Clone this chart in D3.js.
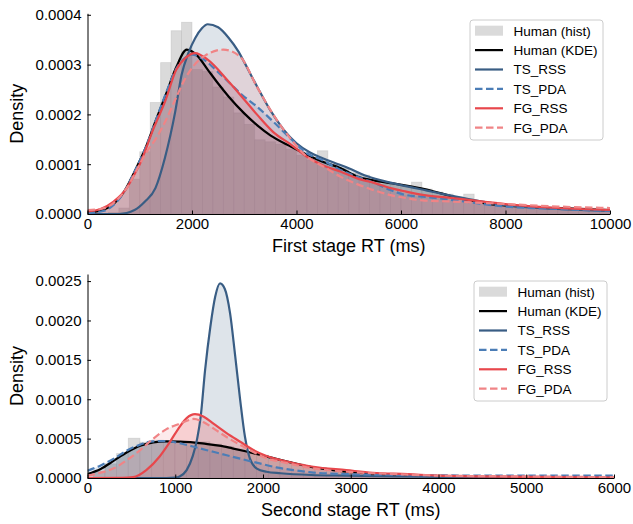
<!DOCTYPE html>
<html><head><meta charset="utf-8">
<script src="https://cdn.jsdelivr.net/npm/d3@7"></script>
<style>
body{margin:0;background:#fff}
svg{display:block}
text{font-family:"Liberation Sans",Arial,Helvetica,sans-serif;fill:#000}
</style>
</head><body>
<svg id="c" width="633" height="524"></svg>
<script>
// ---------------- DATA ----------------
const seriesNames = ["Human (hist)", "Human (KDE)", "TS_RSS", "TS_PDA", "FG_RSS", "FG_PDA"];

// Panel 1: first stage RT
const xTicks1 = [0, 2000, 4000, 6000, 8000, 10000];
const yTicks1 = [0, 0.0001, 0.0002, 0.0003, 0.0004];
const xLabel1 = "First stage RT (ms)";
const histStart1 = [0,200,400,600,800,1000,1200,1400,1600,1800,2000,2200,2400,2600,2800,3000,3200,3400,3600,3800,4000,4200,4400,4600,4800,5000,5200,5400,5600,5800,6000,6200,6400,6600,6800,7000,7200,7400,7600,7800,8000,8200,8400,8600,8800,9000,9200,9400,9600,9800];
const histWidth1 = 200;
const histDensity1 = [0,0,0.000003,0.000012,0.00007,0.000125,0.000224,0.000304,0.000368,0.000385,0.00029,0.000286,0.000255,0.000235,0.000203,0.00018,0.000149,0.000145,0.00014,0.00013,0.000118,0.000108,0.000127,0.0001,0.000092,0.000082,0.000078,0.000066,0.00006,0.000058,0.000056,0.000064,0.00005,0.000044,0.00004,0.000034,0.00004,0.000026,0.000022,0.000018,0.000016,0.000014,0.000013,0.000012,0.000012,0.000011,0.00001,0.00001,0.000009,0.000008];
const kde1 = [[0,0.000003],[300,0.000008],[500,0.00002],[700,0.000045],[900,0.000085],[1100,0.00013],[1300,0.000186],[1500,0.00024],[1700,0.000295],[1900,0.00033],[2100,0.000318],[2300,0.00029],[2500,0.000262],[2700,0.000236],[3000,0.000202],[3250,0.000178],[3500,0.000158],[3900,0.000135],[4200,0.000119],[4500,0.000105],[4850,0.000092],[5150,0.000076],[5500,0.000067],[5800,0.000062],[6100,0.000057],[6450,0.00005],[6750,0.000042],[7100,0.000032],[7400,0.000026],[7700,0.00002],[8000,0.000017],[8700,0.000013],[9300,0.000011],[10000,0.000008]];
const tsRss1 = [[0,0],[600,0],[900,0.000008],[1100,0.000025],[1300,0.000052],[1480,0.000112],[1680,0.000206],[1800,0.000279],[1930,0.000323],[2060,0.000353],[2190,0.000373],[2300,0.000381],[2500,0.000375],[2700,0.000354],[2890,0.000326],[3000,0.000305],[3250,0.000255],[3500,0.000208],[3750,0.00017],[4000,0.000142],[4250,0.000124],[4500,0.000112],[4800,0.0001],[5000,0.000092],[5300,0.000078],[5600,0.000068],[6000,0.000058],[6500,0.000047],[7000,0.000036],[7500,0.000026],[8000,0.000018],[8500,0.000013],[9000,0.00001],[10000,0.000006]];
const tsPda1 = [[0,0.000002],[300,0.000006],[500,0.000018],[700,0.000044],[900,0.000085],[1100,0.00013],[1300,0.000186],[1500,0.000242],[1700,0.000292],[1850,0.000312],[2000,0.00032],[2200,0.000312],[2500,0.000285],[2800,0.000255],[2950,0.00024],[3250,0.000215],[3550,0.000186],[3900,0.00015],[4200,0.000122],[4500,0.000108],[4850,0.000088],[5150,0.000075],[5500,0.000062],[5800,0.000048],[6100,0.000038],[6500,0.000034],[7000,0.000028],[8000,0.000015],[9000,0.00001],[10000,0.000006]];
const fgRss1 = [[0,0.000005],[250,0.00001],[500,0.000025],[750,0.000052],[900,0.00008],[1000,0.0001],[1250,0.000168],[1485,0.000226],[1700,0.00029],[1870,0.000313],[2060,0.000323],[2300,0.00031],[2700,0.000266],[2950,0.000236],[3250,0.000199],[3550,0.000165],[3900,0.000139],[4200,0.000115],[4500,0.000098],[4850,0.000085],[5150,0.000072],[5500,0.000062],[5800,0.000052],[6100,0.000045],[6450,0.000038],[7000,0.000032],[8000,0.00002],[9000,0.000012],[10000,0.000008]];
const fgPda1 = [[0,0.000008],[250,0.00001],[500,0.000022],[750,0.000052],[1000,0.0001],[1165,0.00013],[1300,0.00015],[1485,0.000185],[1680,0.00023],[1870,0.000272],[2050,0.0003],[2250,0.000318],[2600,0.00033],[2920,0.000316],[3240,0.000256],[3560,0.000199],[3880,0.000152],[4200,0.000115],[4520,0.000095],[4840,0.000075],[5160,0.00006],[5480,0.000048],[5800,0.000038],[6100,0.000032],[6450,0.000027],[7000,0.000025],[8000,0.00002],[9000,0.000015],[10000,0.000012]];

// Panel 2: second stage RT
const xTicks2 = [0, 1000, 2000, 3000, 4000, 5000, 6000];
const yTicks2 = [0, 0.0005, 0.0010, 0.0015, 0.0020, 0.0025];
const xLabel2 = "Second stage RT (ms)";
const histStart2 = [66,199,332,465,598,731,864,997,1130,1263,1396,1529,1662,1795,1928,2061,2194,2327,2460,2593,2726,2859,2992,3125,3258,3391,3524,3657,3790,3923,4056,4189,4322,4455,4588,4721,4854,4987,5120,5253,5386,5519,5652,5785,5918];
const histWidth2 = 133;
const histDensity2 = [0.00008,0.00018,0.00031,0.000505,0.000455,0.00048,0.00047,0.00046,0.000455,0.00046,0.00043,0.0004,0.00037,0.00033,0.00029,0.00025,0.00021,0.00018,0.00015,0.00013,0.00011,0.000095,0.00008,0.00007,0.00006,0.00005,0.000045,0.00004,0.000035,0.00003,0.000025,0.000022,0.00002,0.000018,0.000015,0.000013,0.000012,0.00001,0.000009,0.000008,0.000007,0.000006,0.000005,0.000005,0.000004];
const kde2 = [[0,0.00005],[150,0.000115],[300,0.00022],[450,0.000326],[600,0.00041],[750,0.000453],[900,0.000466],[1050,0.000462],[1200,0.000453],[1350,0.000433],[1500,0.000411],[1650,0.000377],[1800,0.00034],[1950,0.0003],[2150,0.000242],[2350,0.00019],[2550,0.00014],[2750,0.000108],[2950,0.00008],[3250,0.000055],[3600,0.000035],[4000,0.00002],[4500,0.000014],[5000,0.00001],[6000,0.000005]];
const tsRss2 = [[0,0],[900,0],[1000,0.000005],[1050,0.00002],[1130,0.0001],[1200,0.00028],[1250,0.0005],[1290,0.00078],[1340,0.00137],[1400,0.00192],[1455,0.0023],[1510,0.00247],[1565,0.0024],[1625,0.00209],[1680,0.00158],[1740,0.00099],[1795,0.00052],[1850,0.00025],[1930,0.00012],[2040,0.00008],[2200,0.00006],[2550,0.000038],[2950,0.00003],[3500,0.00002],[4500,0.00001],[6000,0.000005]];
const tsPda2 = [[0,0.000093],[150,0.00016],[300,0.000246],[450,0.000348],[600,0.000424],[750,0.000466],[900,0.000468],[1050,0.000441],[1200,0.0004],[1350,0.000356],[1500,0.000314],[1650,0.000271],[1800,0.000229],[1950,0.000188],[2150,0.000135],[2350,0.0001],[2550,0.000072],[2950,0.00005],[3500,0.00004],[4000,0.000033],[5000,0.00003],[6000,0.00003]];
const fgRss2 = [[0,0],[400,0.000002],[520,0.00001],[670,0.0001],[820,0.00027],[940,0.00046],[1050,0.00065],[1130,0.00076],[1225,0.00081],[1320,0.00078],[1435,0.00069],[1585,0.00057],[1740,0.00046],[1890,0.000355],[2040,0.00028],[2200,0.000228],[2570,0.000143],[2950,0.0001],[3250,0.000067],[3650,0.00005],[4000,0.00003],[5000,0.000015],[6000,0.000005]];
const fgPda2 = [[0,0.00003],[150,0.000068],[300,0.000123],[450,0.000228],[600,0.000355],[750,0.0005],[900,0.00062],[1050,0.00069],[1170,0.00074],[1210,0.00075],[1320,0.00071],[1435,0.00063],[1585,0.00052],[1740,0.00042],[1890,0.00033],[2040,0.00025],[2200,0.000207],[2570,0.000123],[2950,0.00008],[3500,0.00005],[4000,0.00003],[5000,0.00002],[6000,0.00001]];

// ---------------- STYLES ----------------
const styles = {
  "Human (KDE)": {color:"#000000", dash:null, fill:"#000000", fo:0.13},
  "TS_RSS": {color:"#395d84", dash:null, fill:"#395d84", fo:0.17},
  "TS_PDA": {color:"#4b7db6", dash:"7.5,3.5", fill:"#4b7db6", fo:0.17},
  "FG_RSS": {color:"#e8474c", dash:null, fill:"#e8474c", fo:0.17},
  "FG_PDA": {color:"#f08486", dash:"7.5,3.5", fill:"#f08486", fo:0.17}
};
const histColor = "#d3d3d3";

const svg = d3.select("#c");

function panel(id, layout, d) {
  const x = d3.scaleLinear().domain(layout.xDomain).range(layout.xRange);
  const y = d3.scaleLinear().domain(layout.yDomain).range(layout.yRange);
  const g = svg.append("g");
  const clipId = "clip" + id;
  g.append("clipPath").attr("id", clipId).append("rect")
    .attr("x", layout.xRange[0]).attr("y", layout.yRange[1])
    .attr("width", layout.xRange[1]-layout.xRange[0]).attr("height", layout.yRange[0]-layout.yRange[1]);
  const plot = g.append("g").attr("clip-path", `url(#${clipId})`);

  // histogram
  plot.append("g").selectAll("rect").data(d.histStart.map((s,i)=>({s, v:d.histDensity[i]})))
    .join("rect")
    .attr("x", b=>x(b.s)).attr("width", b=>x(b.s+d.histWidth)-x(b.s))
    .attr("y", b=>y(b.v)).attr("height", b=>y(0)-y(b.v))
    .attr("fill", histColor).attr("fill-opacity", 0.85)
    .attr("stroke", "#a9a9a9").attr("stroke-opacity", 0.35).attr("stroke-width", 0.8);

  const area = d3.area().x(p=>x(p[0])).y0(y(0)).y1(p=>y(p[1])).curve(d3.curveMonotoneX);
  const line = d3.line().x(p=>x(p[0])).y(p=>y(p[1])).curve(d3.curveMonotoneX);
  const order = ["Human (KDE)","TS_RSS","TS_PDA","FG_RSS","FG_PDA"];
  order.forEach(k=>{
    plot.append("path").datum(d.series[k]).attr("d", area)
      .attr("fill", styles[k].fill).attr("fill-opacity", styles[k].fo).attr("stroke","none");
  });
  order.forEach(k=>{
    plot.append("path").datum(d.series[k]).attr("d", line)
      .attr("fill","none").attr("stroke", styles[k].color).attr("stroke-width", 2.2)
      .attr("stroke-dasharray", styles[k].dash).attr("stroke-linecap","butt");
  });

  // axes
  const xa = d3.axisBottom(x).tickValues(d.xTicks).tickFormat(d3.format("d"))
    .tickSizeInner(-3.5).tickSizeOuter(0).tickPadding(4);
  const ya = d3.axisLeft(y).tickValues(d.yTicks).tickFormat(d3.format(".4f"))
    .tickSizeInner(-3.5).tickSizeOuter(0).tickPadding(6);
  const gx = g.append("g").attr("transform", `translate(0,${layout.yRange[0]})`).call(xa);
  const gy = g.append("g").attr("transform", `translate(${layout.xRange[0]},0)`).call(ya);
  [gx, gy].forEach(a=>{
    a.selectAll("text").style("font-size","15px").attr("fill","#000");
    a.selectAll("line").attr("stroke","#000").attr("stroke-width",1);
    a.select(".domain").attr("stroke","#000").attr("stroke-width",1);
  });

  // axis labels
  g.append("text").attr("x", (layout.xRange[0]+layout.xRange[1])/2).attr("y", layout.yRange[0]+38)
    .attr("text-anchor","middle").style("font-size","18px").text(d.xLabel);
  g.append("text").attr("transform", `translate(23,${(layout.yRange[0]+layout.yRange[1])/2}) rotate(-90)`)
    .attr("text-anchor","middle").style("font-size","18px").text("Density");

  // legend
  const L = layout.legend;
  const lg = g.append("g");
  lg.append("rect").attr("x", L.x).attr("y", L.y).attr("width", L.w).attr("height", L.h)
    .attr("rx", 3).attr("fill", "#fff").attr("fill-opacity", 0.8).attr("stroke", "#cccccc").attr("stroke-width", 1);
  seriesNames.forEach((name,i)=>{
    const cy = L.y + 10.7 + i*19.4;
    const hx = L.x + 5;
    if (name === "Human (hist)") {
      lg.append("rect").attr("x", hx).attr("y", cy-5).attr("width", 28).attr("height", 10)
        .attr("fill", histColor).attr("fill-opacity", 0.85);
    } else {
      lg.append("line").attr("x1", hx).attr("x2", hx+28).attr("y1", cy).attr("y2", cy)
        .attr("stroke", styles[name].color).attr("stroke-width", 2.2)
        .attr("stroke-dasharray", styles[name].dash);
    }
    lg.append("text").attr("x", L.x + 43.5).attr("y", cy + 4.8).style("font-size","13.5px").text(name);
  });
}

panel(1, {xDomain:[0,10000], yDomain:[0,0.000403], xRange:[87.5,610], yRange:[214,13.3],
          legend:{x:470, y:20, w:133, h:120}},
      {histStart:histStart1, histWidth:histWidth1, histDensity:histDensity1, xTicks:xTicks1, yTicks:yTicks1, xLabel:xLabel1,
       series:{"Human (KDE)":kde1, "TS_RSS":tsRss1, "TS_PDA":tsPda1, "FG_RSS":fgRss1, "FG_PDA":fgPda1}});
panel(2, {xDomain:[0,6000], yDomain:[0,0.00259], xRange:[87.5,614], yRange:[478,274],
          legend:{x:474, y:281, w:133, h:120}},
      {histStart:histStart2, histWidth:histWidth2, histDensity:histDensity2, xTicks:xTicks2, yTicks:yTicks2, xLabel:xLabel2,
       series:{"Human (KDE)":kde2, "TS_RSS":tsRss2, "TS_PDA":tsPda2, "FG_RSS":fgRss2, "FG_PDA":fgPda2}});
</script>
</body></html>
